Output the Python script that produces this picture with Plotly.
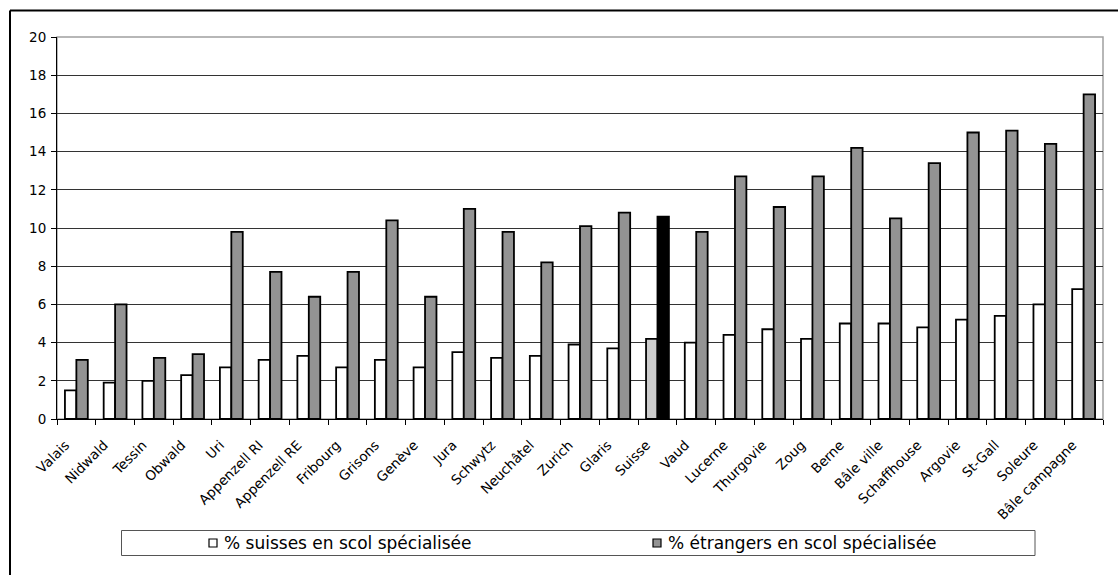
import plotly.graph_objects as go

# Canton names (ordered as plotted) and shares of pupils in special schooling (%)
cantons = ["Valais", "Nidwald", "Tessin", "Obwald", "Uri", "Appenzell RI", "Appenzell RE",
           "Fribourg", "Grisons", "Genève", "Jura", "Schwytz", "Neuchâtel", "Zurich",
           "Glaris", "Suisse", "Vaud", "Lucerne", "Thurgovie", "Zoug", "Berne", "Bâle ville",
           "Schaffhouse", "Argovie", "St-Gall", "Soleure", "Bâle campagne"]
suisses = [1.5, 1.9, 2.0, 2.3, 2.7, 3.1, 3.3, 2.7, 3.1, 2.7, 3.5, 3.2, 3.3, 3.9,
           3.7, 4.2, 4.0, 4.4, 4.7, 4.2, 5.0, 5.0, 4.8, 5.2, 5.4, 6.0, 6.8]
etrangers = [3.1, 6.0, 3.2, 3.4, 9.8, 7.7, 6.4, 7.7, 10.4, 6.4, 11.0, 9.8, 8.2, 10.1,
             10.8, 10.6, 9.8, 12.7, 11.1, 12.7, 14.2, 10.5, 13.4, 15.0, 15.1, 14.4, 17.0]
y_ticks = [0, 2, 4, 6, 8, 10, 12, 14, 16, 18, 20]
series_names = ["% suisses en scol spécialisée", "% étrangers en scol spécialisée"]
national = "Suisse"

FONT = "DejaVu Sans"
W, H = 1118, 575
ML, MR, MT, MB = 57, 15, 37, 156
PW, PH = W - ML - MR, H - MT - MB


def px(x):
    return (x - ML) / PW


def py(y):
    return 1 - (y - MT) / PH


white_cols = ["#cccccc" if c == national else "#ffffff" for c in cantons]
gray_cols = ["#000000" if c == national else "#939393" for c in cantons]

fig = go.Figure()
fig.add_trace(go.Bar(x=cantons, y=suisses, name=series_names[0],
                     marker=dict(color=white_cols, line=dict(color="#000000", width=1.8))))
fig.add_trace(go.Bar(x=cantons, y=etrangers, name=series_names[1],
                     marker=dict(color=gray_cols, line=dict(color="#000000", width=1.8))))

shapes = [
    # plot area border
    dict(type="rect", xref="paper", yref="paper", x0=0, x1=1, y0=0, y1=1,
         line=dict(color="#a0a0a0", width=1.5), layer="below"),
    # outer chart frame: top and left edges (the others run off the page)
    dict(type="line", xref="paper", yref="paper", x0=px(10), x1=px(1118), y0=py(10.5), y1=py(10.5),
         line=dict(color="#000000", width=2)),
    dict(type="line", xref="paper", yref="paper", x0=px(10), x1=px(10), y0=py(10.5), y1=py(575),
         line=dict(color="#000000", width=2)),
    # legend box
    dict(type="rect", xref="paper", yref="paper", x0=px(121.5), x1=px(1035), y0=py(555.5), y1=py(530.5),
         line=dict(color="#555555", width=1), fillcolor="#ffffff"),
    # legend swatches
    dict(type="rect", xref="paper", yref="paper", x0=px(209), x1=px(217), y0=py(547), y1=py(539),
         line=dict(color="#000000", width=1.2), fillcolor="#ffffff"),
    dict(type="rect", xref="paper", yref="paper", x0=px(653), x1=px(661), y0=py(547), y1=py(539),
         line=dict(color="#000000", width=1.2), fillcolor="#939393"),
]

annotations = [
    dict(text=series_names[0], xref="paper", yref="paper", x=px(222), y=py(543),
         xanchor="left", yanchor="middle", showarrow=False, font=dict(family=FONT, size=17, color="#000000")),
    dict(text=series_names[1], xref="paper", yref="paper", x=px(666), y=py(543),
         xanchor="left", yanchor="middle", showarrow=False, font=dict(family=FONT, size=17, color="#000000")),
]

fig.update_layout(
    width=W, height=H,
    margin=dict(l=ML, r=MR, t=MT, b=MB, pad=0),
    paper_bgcolor="#ffffff", plot_bgcolor="#ffffff",
    barmode="group", bargap=0.41, bargroupgap=0,
    showlegend=False,
    font=dict(family=FONT, size=13.5, color="#000000"),
    shapes=shapes, annotations=annotations,
    xaxis=dict(type="category", tickangle=-45, tickson="boundaries", ticks="outside",
               ticklen=5, tickcolor="#000000", showline=True, linecolor="#000000", linewidth=1,
               showgrid=False, ticklabelstandoff=12, ticklabelshift=-11,
               tickfont=dict(family=FONT, size=13.5, color="#000000")),
    yaxis=dict(range=[0, 20], tickvals=y_ticks, ticks="outside", ticklen=5, tickcolor="#000000",
               showline=True, linecolor="#000000", linewidth=1, showgrid=True,
               gridcolor="#333333", gridwidth=1, zeroline=False, ticklabelstandoff=2,
               tickfont=dict(family=FONT, size=13.5, color="#000000")),
)

fig.write_html("out.html")
